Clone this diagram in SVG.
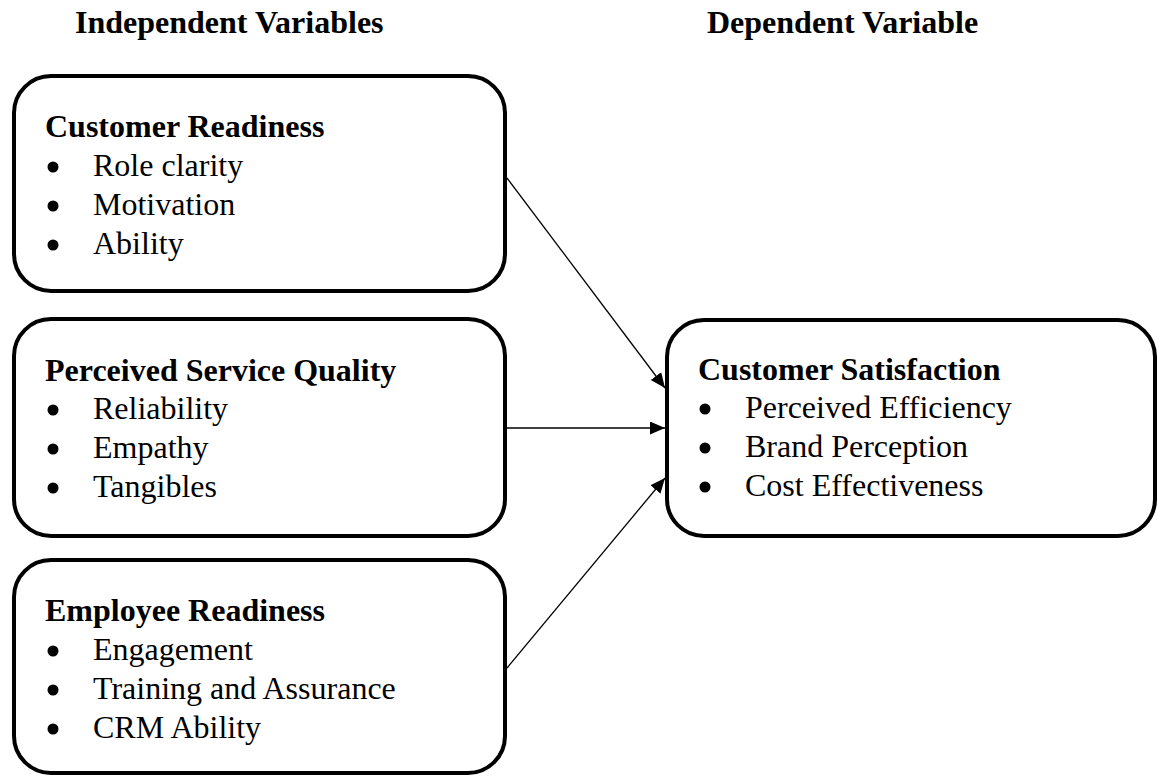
<svg xmlns="http://www.w3.org/2000/svg" width="1158" height="777" viewBox="0 0 1158 777">
<style>
text { font-family: "Liberation Serif", "Times New Roman", serif; font-size: 32px; fill: #000; }
.b { font-weight: bold; }
.box { fill: #fff; stroke: #000; stroke-width: 4; }
.dot { fill: #000; }
.conn { stroke: #000; stroke-width: 1.3; fill: none; marker-end: url(#arr); }
</style>
<defs>
<marker id="arr" markerUnits="userSpaceOnUse" markerWidth="16" markerHeight="14" refX="15" refY="6.5" orient="auto">
<path d="M0,0 L15,6.5 L0,13 z" fill="#000"/>
</marker>
</defs>
<rect width="1158" height="777" fill="#fff"/>
<g id="headers">
<text class="b" x="75" y="33">Independent Variables</text>
<text class="b" x="707" y="33">Dependent Variable</text>
</g>
<g id="customer-readiness">
<rect class="box" x="14" y="76" width="491" height="215" rx="37"/>
<text class="b" x="45" y="137">Customer Readiness</text>
<circle class="dot" cx="53" cy="167" r="5.5"/><text x="93" y="176">Role clarity</text>
<circle class="dot" cx="53" cy="206" r="5.5"/><text x="93" y="215">Motivation</text>
<circle class="dot" cx="53" cy="245" r="5.5"/><text x="93" y="254">Ability</text>
</g>
<g id="perceived-service-quality">
<rect class="box" x="14" y="319" width="491" height="217" rx="37"/>
<text class="b" x="45" y="381">Perceived Service Quality</text>
<circle class="dot" cx="53" cy="410" r="5.5"/><text x="93" y="419">Reliability</text>
<circle class="dot" cx="53" cy="449" r="5.5"/><text x="93" y="458">Empathy</text>
<circle class="dot" cx="53" cy="488" r="5.5"/><text x="93" y="497">Tangibles</text>
</g>
<g id="employee-readiness">
<rect class="box" x="14" y="560" width="491" height="213" rx="37"/>
<text class="b" x="45" y="621">Employee Readiness</text>
<circle class="dot" cx="53" cy="651" r="5.5"/><text x="93" y="660">Engagement</text>
<circle class="dot" cx="53" cy="690" r="5.5"/><text x="93" y="699">Training and Assurance</text>
<circle class="dot" cx="53" cy="729" r="5.5"/><text x="93" y="738">CRM Ability</text>
</g>
<g id="customer-satisfaction">
<rect class="box" x="667" y="320" width="488" height="216" rx="37"/>
<text class="b" x="698" y="380">Customer Satisfaction</text>
<circle class="dot" cx="705" cy="409" r="5.5"/><text x="745" y="418">Perceived Efficiency</text>
<circle class="dot" cx="705" cy="448" r="5.5"/><text x="745" y="457">Brand Perception</text>
<circle class="dot" cx="705" cy="487" r="5.5"/><text x="745" y="496">Cost Effectiveness</text>
</g>
<g id="connectors">
<line class="conn" x1="507" y1="178" x2="665" y2="388"/>
<line class="conn" x1="507" y1="428" x2="665" y2="428"/>
<line class="conn" x1="507" y1="668" x2="665" y2="478"/>
</g>
</svg>
